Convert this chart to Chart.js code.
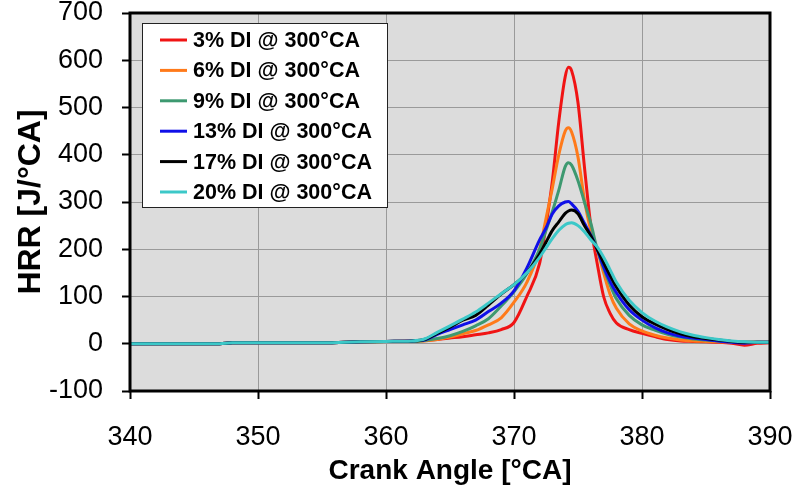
<!DOCTYPE html>
<html>
<head>
<meta charset="utf-8">
<script src="https://cdn.jsdelivr.net/npm/chart.js@4.4.1/dist/chart.umd.min.js"></script>
<style>
  html, body { margin: 0; padding: 0; background: #fff; }
  #wrap { width: 798px; height: 488px; }
</style>
</head>
<body>
<div id="wrap"><canvas id="hrrChart" width="798" height="488"></canvas></div>
<script>
// crank angle samples [°CA]
const angles = [340, 345, 347, 348, 350, 355, 358, 360, 362, 363, 364, 365, 366, 367, 368, 369, 370, 371, 372, 372.5,
  373, 373.5, 374, 374.25, 374.5, 375, 375.5, 376, 376.5, 377, 377.5, 378, 379, 380, 381, 382, 383, 384, 385, 386, 387, 388, 389, 390];

// heat release rate [J/°CA]
const hrr3 = [0, 0, 0, 2, 2, 2, 4, 5, 6, 7, 9, 12, 15, 19, 23, 30, 45, 100, 170, 250,
  345, 470, 565, 585, 578, 510, 375, 250, 170, 100, 65, 44, 30, 22, 15, 9, 6, 5, 4, 3, 1, -3, 1, 2];
const hrr6 = [0, 0, 0, 2, 2, 2, 4, 5, 5, 6, 9, 14, 21, 28, 40, 55, 88, 130, 200, 265,
  330, 400, 450, 457, 448, 395, 305, 240, 200, 150, 105, 75, 42, 27, 18, 12, 8, 6, 5, 4, 3, 2, 3, 3];
const hrr9 = [0, 0, 0, 2, 2, 2, 4, 5, 5, 7, 11, 17, 26, 38, 53, 80, 110, 148, 200, 240,
  280, 325, 375, 383, 378, 345, 300, 255, 200, 160, 125, 95, 60, 40, 29, 20, 14, 10, 8, 6, 4, 3, 3, 3];
const hrr13 = [0, 0, 0, 2, 2, 2, 4, 5, 6, 8, 20, 30, 40, 50, 68, 86, 112, 160, 220, 245,
  275, 292, 300, 301, 296, 280, 255, 230, 200, 163, 132, 108, 72, 50, 34, 23, 16, 12, 9, 6, 3, 1, 3, 3];
const hrr17 = [0, 0, 0, 2, 2, 2, 4, 5, 6, 9, 22, 35, 50, 60, 82, 105, 125, 150, 190, 215,
  240, 258, 276, 281, 283, 275, 250, 228, 200, 172, 145, 120, 82, 57, 42, 30, 21, 15, 11, 8, 5, 3, 3, 3];
const hrr20 = [0, 0, 0, 2, 2, 2, 4, 5, 6, 10, 24, 38, 52, 67, 86, 106, 125, 150, 183, 203,
  223, 240, 252, 255, 256, 250, 237, 220, 205, 183, 157, 130, 92, 66, 48, 35, 25, 18, 13, 9, 6, 4, 3, 3];

const seriesLabels = ['3% DI @ 300°CA', '6% DI @ 300°CA', '9% DI @ 300°CA',
  '13% DI @ 300°CA', '17% DI @ 300°CA', '20% DI @ 300°CA'];
const xTicks = [340, 350, 360, 370, 380, 390];
const yTicks = [-100, 0, 100, 200, 300, 400, 500, 600, 700];

const allSeries = [hrr3, hrr6, hrr9, hrr13, hrr17, hrr20];
const lineColors = ['#f01414', '#ff7a1a', '#3d9970', '#1010e8', '#000000', '#3cc8c8'];

const datasets = allSeries.map((vals, i) => ({
  label: seriesLabels[i],
  data: angles.map((a, j) => ({ x: a, y: vals[j] })),
  borderColor: lineColors[i],
  backgroundColor: lineColors[i],
  borderWidth: 3,
  pointRadius: 0,
  fill: false,
  cubicInterpolationMode: 'monotone',
  order: allSeries.length - i
}));

// grauer Hintergrund + Rahmen + Legende im Plot
const plotDecor = {
  id: 'plotDecor',
  beforeDraw(chart) {
    const { ctx, chartArea: a } = chart;
    ctx.save();
    ctx.fillStyle = '#dcdcdc';
    ctx.fillRect(a.left, a.top, a.right - a.left, a.bottom - a.top);
    ctx.restore();
  },
  afterDraw(chart) {
    const { ctx, chartArea: a } = chart;
    ctx.save();
    ctx.strokeStyle = '#000';
    ctx.lineWidth = 3;
    ctx.strokeRect(a.left, a.top, a.right - a.left, a.bottom - a.top);

    // legend box
    const bx = 142, by = 23, bw = 245, bh = 184;
    ctx.fillStyle = '#fff';
    ctx.fillRect(bx, by, bw, bh);
    ctx.lineWidth = 1;
    ctx.strokeStyle = '#222';
    ctx.strokeRect(bx + 0.5, by + 0.5, bw, bh);
    ctx.font = 'bold 21.5px "Liberation Sans", Arial, sans-serif';
    ctx.textBaseline = 'middle';
    chart.data.datasets.forEach((ds, i) => {
      const y = 40 + i * 30.4;
      ctx.strokeStyle = ds.borderColor;
      ctx.lineWidth = 3;
      ctx.beginPath();
      ctx.moveTo(160, y);
      ctx.lineTo(187, y);
      ctx.stroke();
      ctx.fillStyle = '#000';
      ctx.fillText(ds.label, 193, y + 1);
    });
    ctx.restore();
  }
};

const tickFont = { family: '"Liberation Sans", Arial, sans-serif', size: 27 };

new Chart(document.getElementById('hrrChart'), {
  type: 'line',
  data: { datasets },
  options: {
    responsive: false,
    devicePixelRatio: 1,
    animation: false,
    layout: { padding: { top: 13, right: 28, left: 0, bottom: 0 } },
    plugins: { legend: { display: false }, tooltip: { enabled: false } },
    scales: {
      x: {
        type: 'linear',
        min: 340,
        max: 390,
        afterBuildTicks: s => { s.ticks = xTicks.map(v => ({ value: v })); },
        afterFit: s => { s.height = 97; s.paddingLeft = 0; s.paddingRight = 0; },
        border: { display: false },
        grid: { color: '#9a9a9a', lineWidth: 1, tickColor: '#000', tickLength: 8, tickWidth: 2 },
        ticks: { color: '#000', font: tickFont, padding: 22, maxRotation: 0 },
        title: {
          display: true, text: 'Crank Angle [°CA]', color: '#000',
          font: { family: '"Liberation Sans", Arial, sans-serif', size: 28, weight: 'bold' },
          padding: { top: 0, bottom: 0 }
        }
      },
      y: {
        min: -100,
        max: 700,
        afterBuildTicks: s => { s.ticks = yTicks.map(v => ({ value: v })); },
        afterFit: s => { s.width = 130; s.paddingTop = 0; s.paddingBottom = 0; },
        border: { display: false },
        grid: { color: '#9a9a9a', lineWidth: 1, tickColor: '#000', tickLength: 8, tickWidth: 2 },
        ticks: { color: '#000', font: tickFont, padding: 19 },
        title: {
          display: true, text: 'HRR [J/°CA]', color: '#000',
          font: { family: '"Liberation Sans", Arial, sans-serif', size: 32, weight: 'bold' },
          padding: { top: 12, bottom: 0 }
        }
      }
    }
  },
  plugins: [plotDecor]
});
</script>
</body>
</html>
